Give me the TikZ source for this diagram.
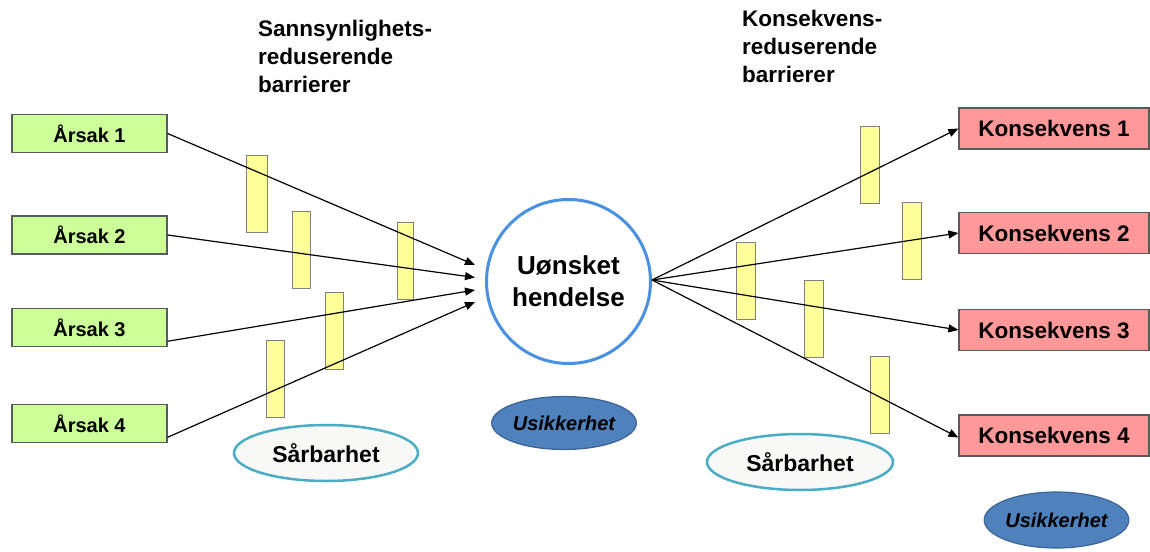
\documentclass[tikz,border=0pt]{standalone}
\usepackage{fontspec}
\setmainfont{Liberation Sans}
\usetikzlibrary{arrows.meta,shapes.geometric}

\definecolor{causefill}{RGB}{204,255,153}
\definecolor{consfill}{RGB}{255,153,153}
\definecolor{boxline}{RGB}{90,90,90}
\definecolor{barfill}{RGB}{255,255,153}
\definecolor{barline}{RGB}{128,128,128}
\definecolor{eventline}{RGB}{74,144,226}
\definecolor{uncfill}{RGB}{79,129,189}
\definecolor{uncline}{RGB}{60,100,150}
\definecolor{vulnline}{RGB}{75,172,198}
\definecolor{vulnfill}{RGB}{248,248,246}

\newcommand{\fs}[2]{\fontsize{#1}{#2}\selectfont}

\tikzset{
  cause/.style={draw=boxline, line width=1.2pt, fill=causefill, rectangle,
    minimum width=155pt, minimum height=38pt, inner sep=0pt,
    font=\fs{20}{24}\bfseries},
  conseq/.style={draw=boxline, line width=1.2pt, fill=consfill, rectangle,
    minimum width=190pt, minimum height=41pt, inner sep=0pt,
    font=\fs{22.5}{27}\bfseries},
  barrier/.style={draw=barline, line width=1pt, fill=barfill, rectangle,
    minimum width=18pt, minimum height=77pt, inner sep=0pt},
  event/.style={draw=eventline, line width=3pt, fill=white, circle,
    minimum size=164pt, inner sep=0pt, align=center,
    font=\fs{26}{32}\bfseries},
  uncert/.style={draw=uncline, line width=1.2pt, fill=uncfill, ellipse,
    minimum width=137pt, minimum height=53pt, inner sep=0pt,
    font=\fs{20}{24}\bfseries\itshape},
  vuln/.style={draw=vulnline, line width=2.5pt, fill=vulnfill, ellipse,
    minimum width=184pt, minimum height=56pt, inner sep=0pt,
    font=\fs{23}{27}\bfseries},
  heading/.style={anchor=base west, align=left, inner sep=0pt,
    font=\fs{22.5}{27.5}\bfseries},
  flow/.style={draw=black, line width=1.2pt,
    -{Triangle[length=10pt,width=8pt]}},
}

\begin{document}
\begin{tikzpicture}[x=1pt, y=-1pt]
  \useasboundingbox (0,0) rectangle (1150,551);

  % column headings (placed by the baseline of their last line)
  \node[heading] (hleft) at (258,92) {Sannsynlighets-\\reduserende\\barrierer};
  \node[heading] (hright) at (742,82) {Konsekvens-\\reduserende\\barrierer};

  % causes
  \node[cause] (a1) at (89.5,133.5) {Årsak 1};
  \node[cause] (a2) at (89.5,235) {Årsak 2};
  \node[cause] (a3) at (89.5,327.5) {Årsak 3};
  \node[cause] (a4) at (89.5,423.5) {Årsak 4};

  % consequences
  \node[conseq] (k1) at (1054,128.5) {Konsekvens 1};
  \node[conseq] (k2) at (1054,233) {Konsekvens 2};
  \node[conseq] (k3) at (1054,330) {Konsekvens 3};
  \node[conseq] (k4) at (1054,435.5) {Konsekvens 4};

  % central event
  \node[event] (ev) at (568.5,281.5) {Uønsket\\hendelse};

  % probability-reducing barriers
  \node[barrier, minimum width=21pt] (bA) at (256.5,194) {};
  \node[barrier] (bB) at (301,250) {};
  \node[barrier, minimum width=16pt] (bC) at (405.5,260.5) {};
  \node[barrier] (bD) at (334,330.5) {};
  \node[barrier] (bE) at (275,378.5) {};

  % consequence-reducing barriers
  \node[barrier, minimum width=19pt] (bF) at (869.5,165) {};
  \node[barrier, minimum width=19pt] (bG) at (911.5,240.5) {};
  \node[barrier, minimum width=19pt] (bH) at (745.5,280.5) {};
  \node[barrier, minimum width=19pt] (bI) at (814,318.5) {};
  \node[barrier, minimum width=19pt] (bJ) at (879.5,394.5) {};

  % arrow tips in front of the event
  \coordinate (t1) at (475,265);
  \coordinate (t2) at (475,277.5);
  \coordinate (t3) at (475,290);
  \coordinate (t4) at (475,302);
  \coordinate (src) at (652,280);

  % causes to event
  \draw[flow] (a1.east) -- (t1);
  \draw[flow] (a2.east) -- (t2);
  \draw[flow] (a3.-10) -- (t3);
  \draw[flow] (a4.-10) -- (t4);

  % event to consequences
  \draw[flow] (src) -- (k1.west);
  \draw[flow] (src) -- (k2.west);
  \draw[flow] (src) -- (k3.west);
  \draw[flow] (src) -- ([yshift=-2pt]k4.west);

  % uncertainty and vulnerability
  \node[uncert] (u1) at (564,423) {Usikkerhet};
  \node[uncert, minimum height=56pt] (u2) at (1056.5,520) {Usikkerhet};
  \node[vuln] (v1) at (326,453) {Sårbarhet};
  \node[vuln, minimum width=186pt] (v2) at (800,462) {Sårbarhet};
\end{tikzpicture}
\end{document}
